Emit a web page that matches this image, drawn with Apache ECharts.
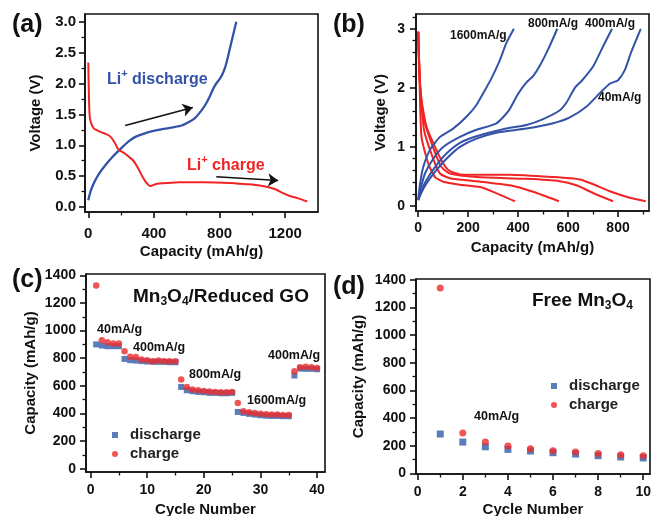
<!DOCTYPE html>
<html><head><meta charset="utf-8">
<script src="https://cdn.jsdelivr.net/npm/echarts@6/dist/echarts.min.js"></script>
<style>html,body{margin:0;padding:0;background:#fff}#c{width:653px;height:516px}</style>
</head><body><div id="c"></div>
<script>
// ---------- Panel (a): first cycle profile (capacity mAh/g, voltage V) ----------
const aDischarge = [[0,0.11],[8,0.2],[20,0.3],[40,0.42],[66,0.54],[105,0.68],[147,0.81],[208,0.97],[250,1.07],[290,1.14],[340,1.19],[392,1.23],[450,1.26],[514,1.29],[570,1.32],[616,1.38],[650,1.44],[677,1.52],[710,1.64],[739,1.78],[762,1.92],[780,2.0],[800,2.07],[816,2.14],[835,2.27],[851,2.43],[875,2.7],[902,3.0]];
const aCharge = [[0,2.34],[3,1.9],[6,1.6],[10,1.44],[20,1.34],[35,1.27],[55,1.24],[80,1.21],[110,1.18],[135,1.14],[157,1.06],[175,0.97],[188,0.92],[215,0.88],[249,0.81],[275,0.75],[295,0.67],[315,0.57],[335,0.47],[355,0.39],[376,0.34],[390,0.35],[410,0.37],[433,0.38],[480,0.39],[555,0.40],[700,0.40],[861,0.39],[960,0.37],[1045,0.35],[1100,0.32],[1147,0.28],[1190,0.22],[1228,0.18],[1280,0.14],[1334,0.09]];
const aArrowDischarge = [[225,1.32],[637,1.61]];
const aArrowCharge = [[780,0.49],[1157,0.43]];
const aXTicks = [0,400,800,1200];
const aYTicks = [0,0.5,1.0,1.5,2.0,2.5,3.0];

// ---------- Panel (b): profiles at different rates ----------
const b40D = [[0,0.1],[12,0.22],[33,0.38],[73,0.61],[113,0.8],[167,1.0],[233,1.14],[313,1.24],[433,1.31],[540,1.4],[607,1.5],[673,1.68],[727,1.91],[767,2.07],[800,2.13],[827,2.3],[853,2.61],[891,3.0]];
const b400D = [[0,0.1],[12,0.25],[33,0.44],[73,0.69],[113,0.89],[167,1.07],[233,1.18],[340,1.3],[433,1.37],[500,1.47],[567,1.62],[595,1.76],[627,2.0],[655,2.12],[700,2.36],[740,2.7],[776,3.0]];
const b800D = [[0,0.1],[10,0.3],[27,0.55],[60,0.8],[100,1.0],[167,1.17],[233,1.29],[313,1.4],[360,1.6],[400,1.9],[435,2.1],[460,2.2],[490,2.4],[520,2.65],[557,3.0]];
const b1600D = [[0,0.12],[8,0.4],[20,0.66],[47,0.95],[87,1.17],[140,1.31],[193,1.51],[233,1.71],[267,1.96],[293,2.16],[327,2.47],[353,2.76],[383,3.0]];
const b40C = [[0,2.95],[3,2.5],[8,2.0],[15,1.74],[33,1.34],[67,1.0],[100,0.72],[127,0.59],[180,0.53],[367,0.53],[540,0.49],[647,0.45],[693,0.38],[767,0.25],[847,0.14],[911,0.08]];
const b400C = [[0,2.95],[3,2.5],[8,2.0],[23,1.46],[63,0.95],[93,0.66],[127,0.55],[233,0.49],[433,0.46],[567,0.42],[633,0.35],[700,0.22],[780,0.08]];
const b800C = [[0,2.95],[3,2.5],[8,2.0],[23,1.29],[57,0.83],[87,0.55],[127,0.47],[233,0.42],[367,0.35],[460,0.24],[563,0.08]];
const b1600C = [[0,2.95],[2,2.5],[6,2.0],[13,1.17],[40,0.72],[67,0.49],[100,0.41],[167,0.36],[247,0.32],[300,0.24],[387,0.08]];
const bXTicks = [0,200,400,600,800];
const bYTicks = [0,1,2,3];

// ---------- Panel (c): Mn3O4/Reduced GO rate capability ----------
const cCycles = [1,2,3,4,5,6,7,8,9,10,11,12,13,14,15,16,17,18,19,20,21,22,23,24,25,26,27,28,29,30,31,32,33,34,35,36,37,38,39,40];
const cDischarge = [900,892,887,887,887,795,786,783,779,776,774,774,774,771,771,592,568,561,556,554,549,549,546,546,549,411,404,397,392,387,384,382,382,380,380,675,725,723,723,720];
const cCharge = [1327,931,916,907,907,851,810,808,791,786,779,783,779,779,779,646,592,573,568,563,559,556,554,554,556,476,416,409,404,397,394,392,392,389,389,706,735,738,735,730];
const cXTicks = [0,10,20,30,40];
const cYTicks = [0,200,400,600,800,1000,1200,1400];

// ---------- Panel (d): Free Mn3O4 ----------
const dCycles = [1,2,3,4,5,6,7,8,9,10];
const dDischarge = [284,226,192,173,161,149,139,127,118,111];
const dCharge = [1340,291,226,197,178,164,154,144,135,127];
const dXTicks = [0,2,4,6,8,10];
const dYTicks = [0,200,400,600,800,1000,1200,1400];

// ---------- styling ----------
const FF = "'Liberation Sans', Arial, Helvetica, sans-serif";
const INK = '#111';
const BLUE = '#3352a8';
const RED = '#f02424';
const MBLUE = '#2f5ca8';
const MRED = '#ee2b2b';

function axis(o) {
  return {
    type: 'value', gridIndex: o.g, min: o.min, max: o.max,
    minInterval: o.interval, maxInterval: o.interval,
    axisLine: {show: true, onZero: false, lineStyle: {color: INK, width: 1.6}},
    axisTick: {show: true, inside: false, length: 6, lineStyle: {color: INK, width: 1.6}, customValues: o.ticks},
    minorTick: {show: true, splitNumber: o.minor, length: 3.5, lineStyle: {color: INK, width: 1.3}},
    axisLabel: {customValues: o.ticks, fontSize: o.fs, fontWeight: 'bold', color: INK, fontFamily: FF, margin: o.margin,
                formatter: o.fmt || (v => String(v))},
    splitLine: {show: false}, minorSplitLine: {show: false},
    name: o.name, nameLocation: 'middle', nameGap: o.nameGap,
    nameTextStyle: {fontSize: o.nfs || 15, fontWeight: 'bold', color: INK, fontFamily: FF}
  };
}

function grid(left, top, width, height) {
  return {left, top, width, height, show: true, borderColor: INK, borderWidth: 1.6,
          backgroundColor: 'transparent', containLabel: false, outerBoundsMode: 'none'};
}

function line(name, data, color, xi, width) {
  return {type: 'line', name, data, xAxisIndex: xi, yAxisIndex: xi, showSymbol: false, symbol: 'none',
          smooth: 0.2, lineStyle: {color, width: width || 2}, itemStyle: {color},
          z: 3, silent: true};
}

function arrow(pts) {
  return {silent: true, symbol: ['none', 'arrow'], symbolSize: 10, label: {show: false},
          lineStyle: {color: INK, width: 1.5, type: 'solid'}, itemStyle: {color: INK},
          emphasis: {disabled: true},
          data: [[{coord: pts[0]}, {coord: pts[1]}]]};
}

function pairs(xs, ys) { return xs.map((x, i) => [x, ys[i]]); }

function txt(x, y, text, size, color) {
  return {type: 'text', x, y, silent: true,
    style: {text, fill: color || INK, font: 'bold ' + size + 'px ' + FF,
            textAlign: 'left', textVerticalAlign: 'middle', align: 'left', verticalAlign: 'middle'}};
}

function richTxt(x, y, text, rich) {
  return {type: 'text', x, y, silent: true,
    style: {text, rich, textAlign: 'left', textVerticalAlign: 'middle', align: 'left', verticalAlign: 'middle'}};
}

const main = {fontSize: 19, fontWeight: 'bold', fontFamily: FF, fill: INK, color: INK, lineHeight: 22, verticalAlign: 'middle'};
const sub = {fontSize: 12, fontWeight: 'bold', fontFamily: FF, fill: INK, color: INK, lineHeight: 12, verticalAlign: 'bottom'};
function liRich(color) {
  return {
    m: {fontSize: 16, fontWeight: 'bold', fontFamily: FF, fill: color, color, lineHeight: 20, verticalAlign: 'bottom'},
    s: {fontSize: 11, fontWeight: 'bold', fontFamily: FF, fill: color, color, lineHeight: 11, verticalAlign: 'top'}
  };
}

const chart = echarts.init(document.getElementById('c'), null, {renderer: 'canvas'});
chart.setOption({
  animation: false,
  backgroundColor: '#fff',
  grid: [grid(85, 14, 233, 198), grid(416, 14, 233, 197), grid(86, 274, 239, 198), grid(416, 279, 234, 195)],
  xAxis: [
    axis({g: 0, min: -20, max: 1400, interval: 400, minor: 2, ticks: aXTicks, fs: 15, margin: 14, name: 'Capacity (mAh/g)', nameGap: 32}),
    axis({g: 1, min: -9, max: 924, interval: 200, minor: 2, ticks: bXTicks, fs: 14, margin: 10, name: 'Capacity (mAh/g)', nameGap: 29}),
    axis({g: 2, min: -0.8, max: 41.4, interval: 10, minor: 2, ticks: cXTicks, fs: 14, margin: 11, name: 'Cycle Number', nameGap: 30}),
    axis({g: 3, min: -0.075, max: 10.3, interval: 2, minor: 2, ticks: dXTicks, fs: 14, margin: 11, name: 'Cycle Number', nameGap: 28})
  ],
  yAxis: [
    axis({g: 0, min: -0.08, max: 3.125, interval: 0.5, minor: 2, ticks: aYTicks, fs: 15, margin: 9, name: 'Voltage (V)', nameGap: 42, fmt: v => v.toFixed(1)}),
    axis({g: 1, min: -0.085, max: 3.25, interval: 1, minor: 5, ticks: bYTicks, fs: 14, margin: 11, name: 'Voltage (V)', nameGap: 28}),
    axis({g: 2, min: -24, max: 1410, interval: 200, minor: 2, ticks: cYTicks, fs: 14, margin: 10, name: 'Capacity (mAh/g)', nameGap: 48}),
    axis({g: 3, min: -5, max: 1405, interval: 200, minor: 2, ticks: dYTicks, fs: 14, margin: 10, name: 'Capacity (mAh/g)', nameGap: 50})
  ],
  legend: [
    {orient: 'vertical', left: 107, top: 421, itemWidth: 6, itemHeight: 6, itemGap: 1, selectedMode: false,
     textStyle: {fontSize: 15, fontWeight: 'bold', color: '#222', fontFamily: FF, lineHeight: 18, padding: [0, 0, 0, 7]},
     data: [{name: 'discharge', icon: 'rect'}, {name: 'charge', icon: 'circle'}]},
    {orient: 'vertical', left: 546, top: 372, itemWidth: 6, itemHeight: 6, itemGap: 1, selectedMode: false,
     textStyle: {fontSize: 15, fontWeight: 'bold', color: '#222', fontFamily: FF, lineHeight: 18, padding: [0, 0, 0, 7]},
     data: [{name: 'discharge', icon: 'rect'}, {name: 'charge', icon: 'circle'}]}
  ],
  series: [
    Object.assign(line('Li+ discharge', aDischarge, BLUE, 0, 2.3), {markLine: arrow(aArrowDischarge)}),
    Object.assign(line('Li+ charge', aCharge, RED, 0, 2), {markLine: arrow(aArrowCharge)}),
    line('1600mA/g charge', b1600C, RED, 1, 2),
    line('800mA/g charge', b800C, RED, 1, 2),
    line('400mA/g charge', b400C, RED, 1, 2),
    line('40mA/g charge', b40C, RED, 1, 2),
    line('1600mA/g discharge', b1600D, BLUE, 1, 2),
    line('800mA/g discharge', b800D, BLUE, 1, 2),
    line('400mA/g discharge', b400D, BLUE, 1, 2),
    line('40mA/g discharge', b40D, BLUE, 1, 2),
    {type: 'scatter', name: 'discharge', xAxisIndex: 2, yAxisIndex: 2, symbol: 'rect', symbolSize: 6,
     itemStyle: {color: MBLUE}, data: pairs(cCycles, cDischarge), z: 3},
    {type: 'scatter', name: 'charge', xAxisIndex: 2, yAxisIndex: 2, symbol: 'circle', symbolSize: 6.5,
     itemStyle: {color: MRED}, data: pairs(cCycles, cCharge), z: 4},
    {type: 'scatter', name: 'discharge', xAxisIndex: 3, yAxisIndex: 3, symbol: 'rect', symbolSize: 7,
     itemStyle: {color: MBLUE}, data: pairs(dCycles, dDischarge), z: 3},
    {type: 'scatter', name: 'charge', xAxisIndex: 3, yAxisIndex: 3, symbol: 'circle', symbolSize: 7,
     itemStyle: {color: MRED}, data: pairs(dCycles, dCharge), z: 4}
  ],
  graphic: {elements: [
    txt(12, 25, '(a)', 25), txt(333, 25, '(b)', 25), txt(12, 280, '(c)', 25), txt(333, 287, '(d)', 25),
    richTxt(107, 78, '{m|Li}{s|+}{m| discharge}', liRich(BLUE)),
    richTxt(187, 164, '{m|Li}{s|+}{m| charge}', liRich(RED)),
    txt(450, 36, '1600mA/g', 12), txt(528, 24, '800mA/g', 12), txt(585, 24, '400mA/g', 12), txt(598, 98, '40mA/g', 12),
    richTxt(133, 297, '{m|Mn}{s|3}{m|O}{s|4}{m|/Reduced GO}', {m: main, s: sub}),
    richTxt(532, 301, '{m|Free Mn}{s|3}{m|O}{s|4}', {m: main, s: sub}),
    txt(97, 330, '40mA/g', 12.5), txt(133, 348, '400mA/g', 12.5), txt(189, 375, '800mA/g', 12.5),
    txt(247, 401, '1600mA/g', 12.5), txt(268, 356, '400mA/g', 12.5),
    txt(474, 417, '40mA/g', 12.5)
  ]}
});
</script>
</body></html>
